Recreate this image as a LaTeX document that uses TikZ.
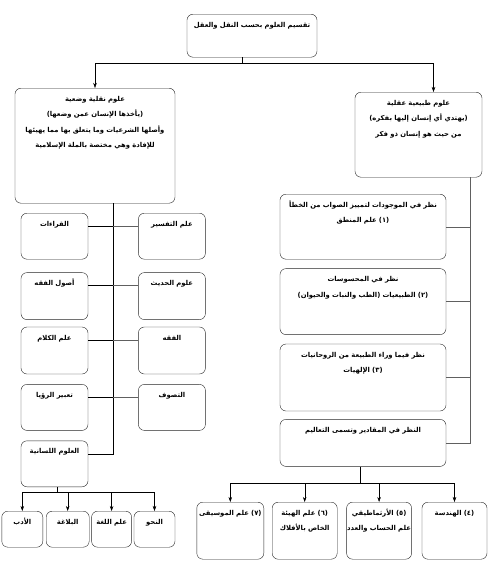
\documentclass[tikz,border=0pt]{standalone}
\usepackage{fontspec}
\usetikzlibrary{positioning,arrows.meta}
\newfontfamily\arabicfont[Script=Arabic]{DejaVu Sans}
\TeXXeTstate=1
\newcommand{\ar}[1]{\beginR #1\endR}

\begin{document}
\begin{tikzpicture}[x=1pt,y=-1pt,
    >={Stealth[length=5pt,width=3.5pt]},
    box/.style 2 args={draw=black!85, rounded corners=6pt, anchor=north, align=center,
        inner xsep=0pt, inner ysep=6pt, text width=#1pt, text height=7pt, text depth=#2pt,
        font=\arabicfont\bfseries\fontsize{6.8}{15.5}\selectfont},
    link/.style={draw=gray!75!black}]
    \useasboundingbox (0,0) rectangle (495,562);

    \node [box={130}{24}] (title) at (252,14) {\ar{تقسيم العلوم بحسب النقل والعقل}};
    \coordinate (split) at (242,63);
    \node [box={160}{96}] (naql) at (95,88) {\ar{علوم نقلية وضعية}\\
        \ar{(يأخذها الإنسان عمن وضعها)}\\
        \ar{وأصلها الشرعيات وما يتعلق بها مما يهيئها}\\
        \ar{للإفادة وهي مختصة بالملة الإسلامية}};
    \node [box={127}{66}] (aql) at (418.5,92) {\ar{علوم طبيعية عقلية}\\
        \ar{(يهتدي أي إنسان إليها بفكره)}\\
        \ar{من حيث هو إنسان ذو فكر}};

    \draw (title.south -| split) -- (split);
    \draw [->] (split) -| (naql.north);
    \draw [->] (split) -| ([xshift=15pt]aql.north);

    \node [box={166}{46}] (r1) at (363,194) {\ar{نظر في الموجودات لتمييز الصواب من الخطأ}\\
        \ar{(١) علم المنطق}};
    \node [box={166}{47}, below=9pt of r1] (r2) {\ar{نظر في المحسوسات}\\
        \ar{(٢) الطبيعيات (الطب والنبات والحيوان)}};
    \node [box={166}{48}, below=9pt of r2] (r3) {\ar{نظر فيما وراء الطبيعة من الروحانيات}\\
        \ar{(٣) الإلهيات}};
    \node [box={166}{28}, below=8pt of r3] (r4) {\ar{النظر في المقادير وتسمى التعاليم}};

    \coordinate (rspine) at ([xshift=-12pt]aql.south east);
    \draw [link] (rspine) |- (r4.east);
    \path [link]
        (r1.east) edge (r1.east -| rspine)
        (r2.east) edge (r2.east -| rspine)
        (r3.east) edge (r3.east -| rspine);

    \node [box={65}{38}] (m4) at (454.5,502) {\ar{(٤) الهندسة}};
    \node [box={65}{38}, left=10pt of m4] (m5) {\ar{(٥) الأرثماطيقي}\\\ar{علم الحساب والعدد}};
    \node [box={65}{38}, left=9pt of m5] (m6) {\ar{(٦) علم الهيئة}\\\ar{الخاص بالأفلاك}};
    \node [box={67}{38}, left=8pt of m6] (m7) {\ar{(٧) علم الموسيقى}};

    \coordinate (msplit) at (360,483);
    \draw (r4.south -| msplit) -- (msplit);
    \foreach \m in {m4,m5,m6,m7}
        \draw [->] (msplit) -| (\m.north);

    \node [box={67}{27}] (l1) at (54.5,213) {\ar{القراءات}};
    \node [box={67}{28}, below=13pt of l1] (l2) {\ar{أصول الفقه}};
    \node [box={67}{28}, below=7pt of l2] (l3) {\ar{علم الكلام}};
    \node [box={67}{27}, below=10pt of l3] (l4) {\ar{تعبير الرؤيا}};
    \node [box={67}{27}, below=10pt of l4] (l5) {\ar{العلوم اللسانية}};

    \node [box={67}{27}, right=50pt of l1] (c1) {\ar{علم التفسير}};
    \node [box={67}{28}, right=50pt of l2] (c2) {\ar{علوم الحديث}};
    \node [box={67}{28}, right=50pt of l3] (c3) {\ar{الفقه}};
    \node [box={67}{27}, right=50pt of l4] (c4) {\ar{التصوف}};

    \coordinate (lspine) at ([xshift=18pt]naql.south);
    \draw (lspine) |- (l5.base east);
    \foreach \k in {1,...,4} {
        \draw (l\k.base east) -- (l\k.base east -| lspine);
        \draw [link] (lspine |- c\k.base west) -- (c\k.base west);
    }

    \node [box={41}{17}] (b4) at (154.5,511) {\ar{النحو}};
    \node [box={40}{17}, left=2pt of b4] (b3) {\ar{علم اللغة}};
    \node [box={43}{17}, left=2pt of b3] (b2) {\ar{البلاغة}};
    \node [box={41}{17}, left=3pt of b2] (b1) {\ar{الأدب}};

    \coordinate (lsplit) at (57,492);
    \draw (l5.south -| lsplit) -- (lsplit);
    \foreach \b in {b1,b2,b3,b4}
        \draw [->] (lsplit) -| (\b.north);
\end{tikzpicture}
\end{document}
